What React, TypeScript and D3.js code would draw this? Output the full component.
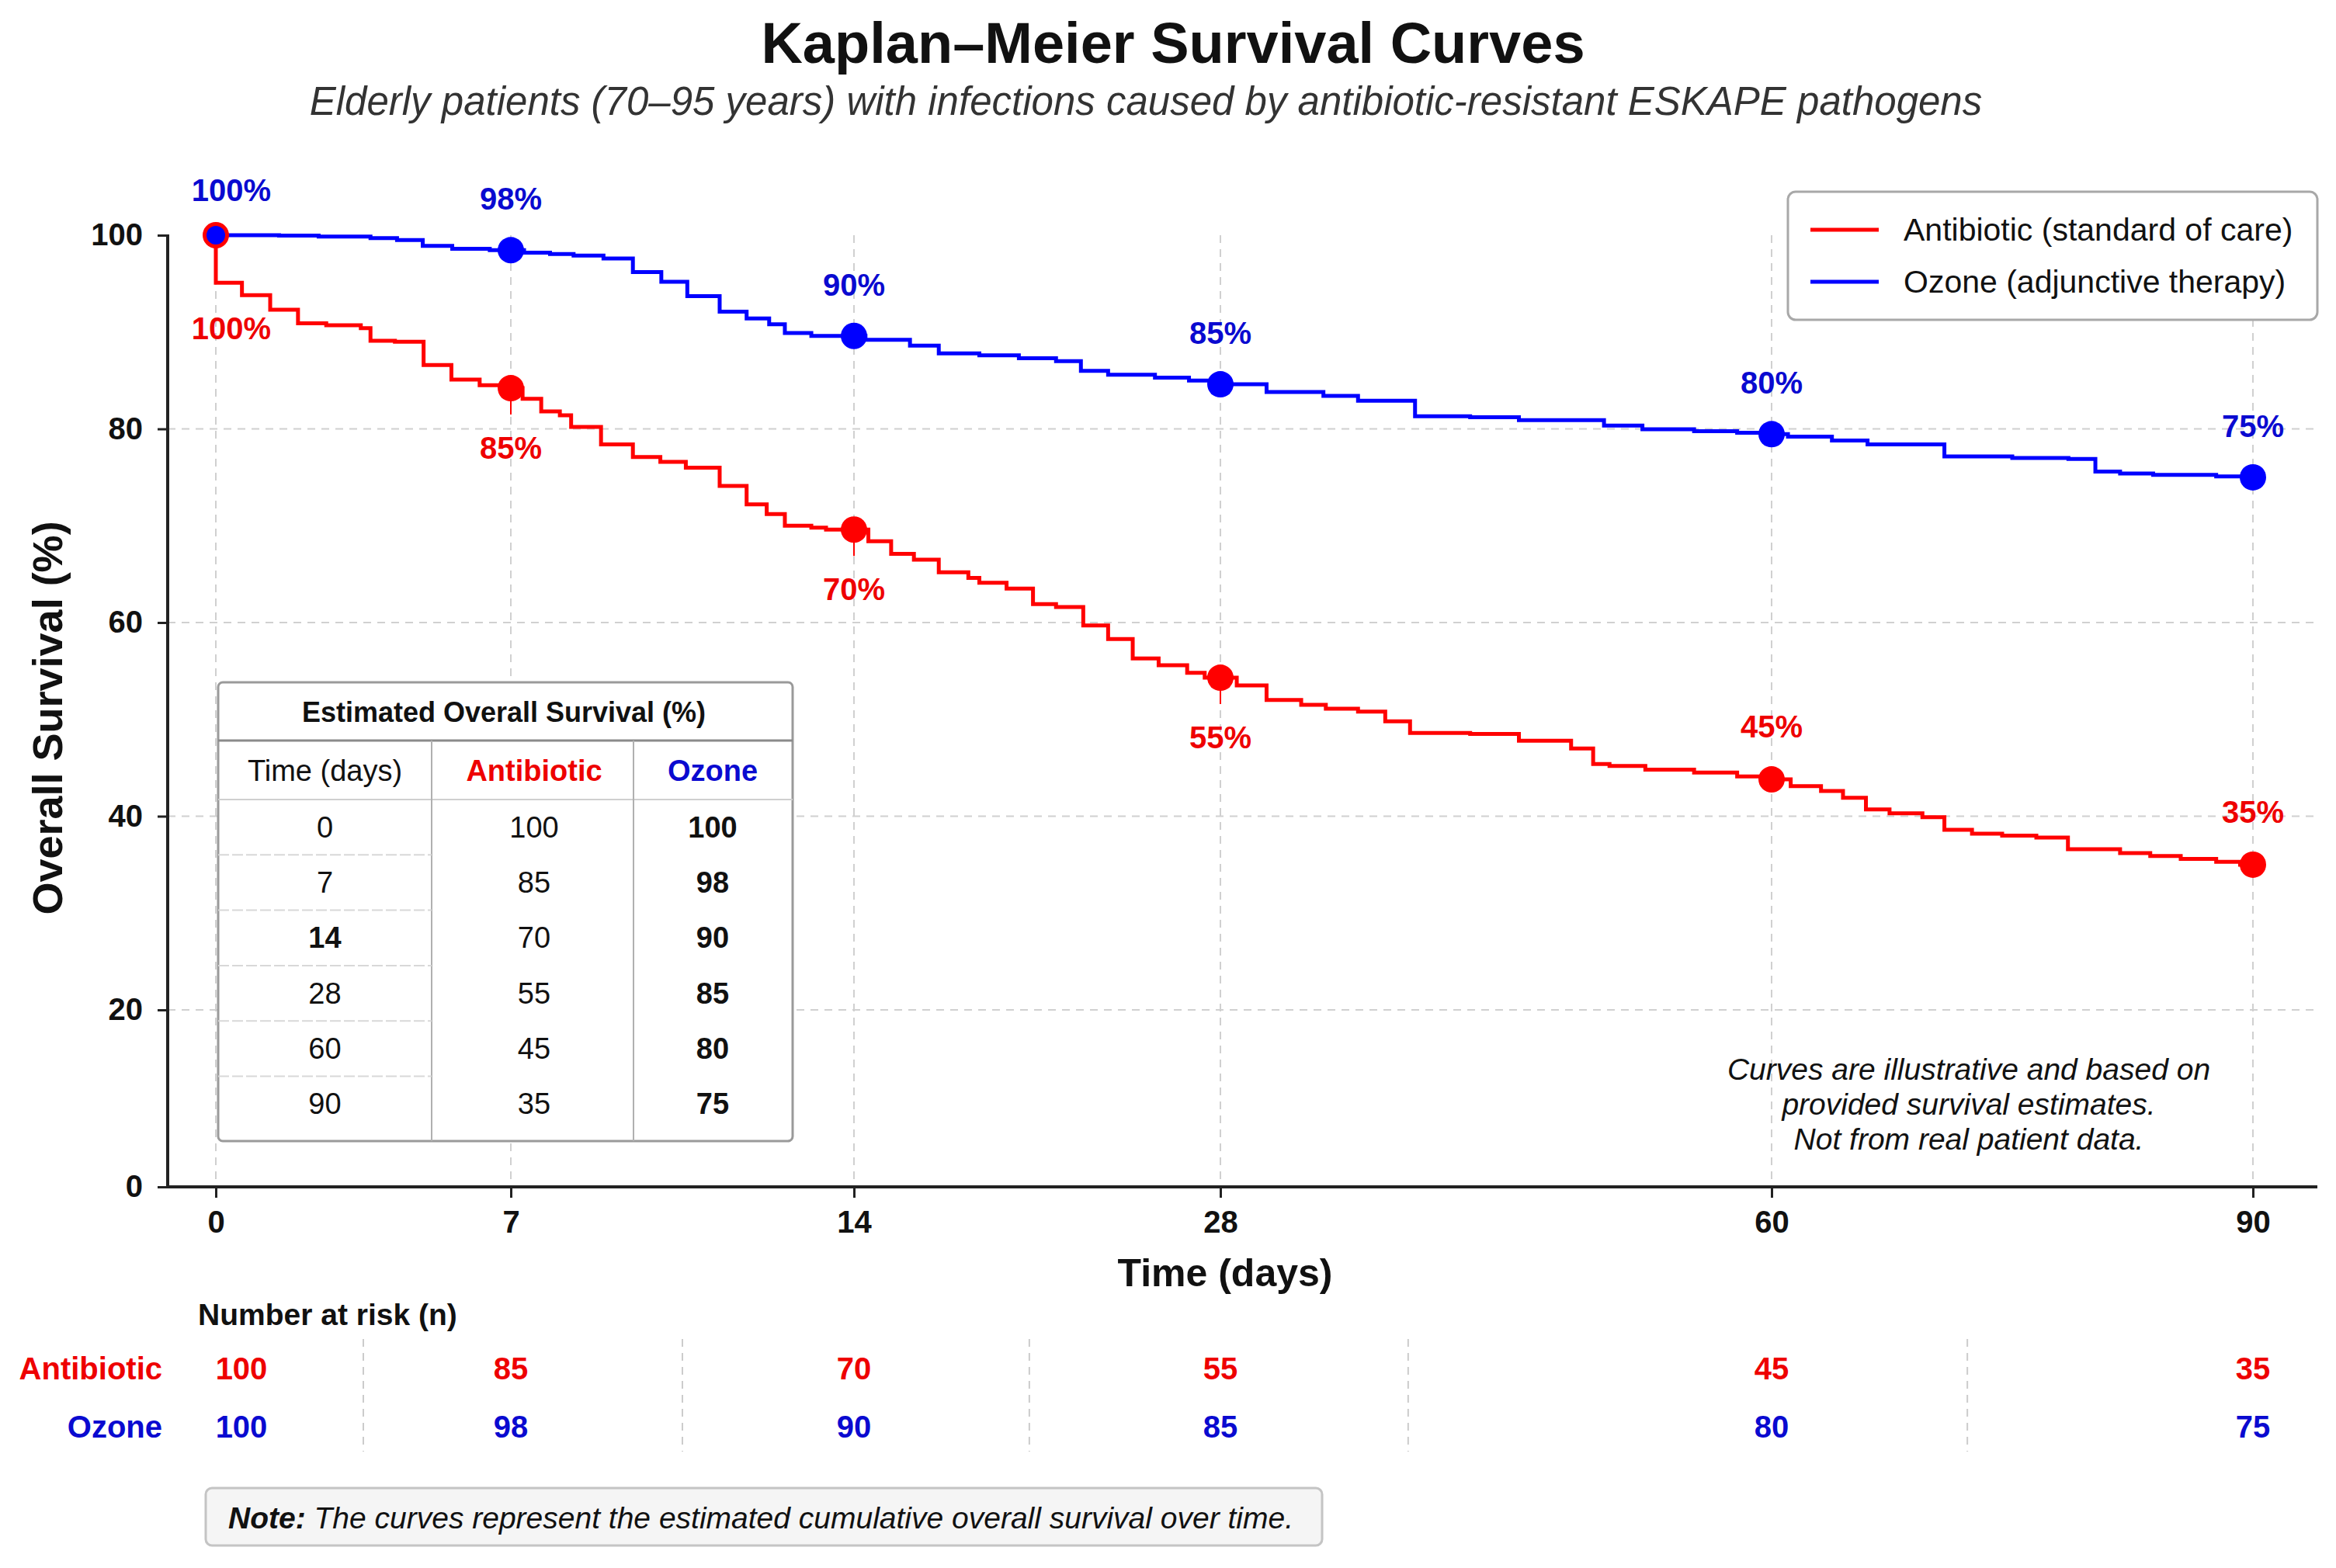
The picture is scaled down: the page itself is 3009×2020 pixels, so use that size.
import React, { useEffect, useRef } from 'react';
import * as d3 from 'd3';

// ---- data ----
const timepoints = [0, 7, 14, 28, 60, 90];
const antibioticEstimate = [100, 85, 70, 55, 45, 35];
const ozoneEstimate = [100, 98, 90, 85, 80, 75];
const atRiskAntibiotic = [100, 85, 70, 55, 45, 35];
const atRiskOzone = [100, 98, 90, 85, 80, 75];
const yTicks = [0, 20, 40, 60, 80, 100];
const riskDividers = [3.5, 10.5, 20.7, 38.9, 72.2];

// step curves: [day, survival %]
const antibioticSteps: [number, number][] = [
  [0, 100], [0, 95.1], [0.62, 93.8], [1.29, 92.3], [1.95, 90.9], [2.62, 90.7], [3.44, 90.4],
  [3.67, 89.1], [4.25, 89.0], [4.93, 86.6], [5.59, 85.1], [6.26, 84.5], [6.75, 84.2],
  [7.24, 83.1], [7.62, 81.8], [8.0, 81.4], [8.23, 80.2], [8.84, 78.4], [9.49, 77.1],
  [10.05, 76.6], [10.57, 76.0], [11.26, 74.1], [11.81, 72.2], [12.22, 71.2], [12.59, 70.0],
  [13.13, 69.8], [13.43, 69.6], [14.55, 68.4], [15.42, 67.1], [16.29, 66.5], [17.24, 65.2],
  [18.37, 64.6], [18.79, 64.1], [19.83, 63.5], [20.84, 61.9], [21.72, 61.6], [22.76, 59.7],
  [23.71, 58.3], [24.65, 56.3], [25.64, 55.6], [26.73, 54.8], [27.4, 54.3], [28.95, 53.5],
  [30.68, 52.0], [32.69, 51.5], [34.12, 51.1], [35.99, 50.8], [37.57, 49.8], [39.01, 48.6],
  [42.5, 48.5], [45.33, 47.8], [48.36, 47.0], [49.64, 45.4], [50.59, 45.2], [52.67, 44.8],
  [55.5, 44.5], [58, 44.1], [59.5, 43.8], [61.19, 43.1], [63.08, 42.6], [64.45, 41.9],
  [65.88, 40.7], [67.35, 40.3], [69.4, 39.9], [70.77, 38.6], [72.49, 38.2], [74.37, 38.0],
  [76.5, 37.8], [78.47, 36.6], [81.72, 36.2], [83.6, 35.9], [85.5, 35.6], [87.71, 35.3],
  [89.2, 35.0], [90, 35.0],
];

const ozoneSteps: [number, number][] = [
  [0, 100], [1.5, 99.95], [2.44, 99.85], [3.67, 99.7], [4.3, 99.5], [4.91, 98.9],
  [5.61, 98.6], [6.5, 98.45], [7.27, 98.2], [7.8, 98.05], [8.28, 97.9], [8.89, 97.6],
  [9.49, 96.2], [10.07, 95.2], [10.6, 93.7], [11.26, 92.1], [11.81, 91.4], [12.27, 90.8],
  [12.59, 89.9], [13.13, 89.6], [14.44, 89.2], [16.14, 88.6], [17.24, 87.8], [18.79, 87.6],
  [20.3, 87.3], [21.72, 87.0], [22.67, 86.0], [23.71, 85.6], [25.5, 85.3], [26.8, 85.0],
  [27.6, 84.6], [30.68, 83.8], [33.98, 83.4], [35.99, 82.9], [39.3, 81.3], [42.5, 81.2],
  [45.33, 80.9], [50.27, 80.35], [52.5, 79.95], [55.5, 79.75], [58, 79.6], [59.4, 79.45],
  [61.02, 79.2], [63.76, 78.8], [65.98, 78.4], [70.77, 77.15], [75, 77.0], [78.5, 76.9],
  [80.18, 75.6], [81.72, 75.4], [83.78, 75.25], [87.71, 75.1], [90, 75.0],
];

const legendLabels = ['Antibiotic (standard of care)', 'Ozone (adjunctive therapy)'];
const tableHeader = ['Time (days)', 'Antibiotic', 'Ozone'];
const annotationLines = [
  'Curves are illustrative and based on',
  'provided survival estimates.',
  'Not from real patient data.',
];

const FONT = "'Liberation Sans', Arial, Helvetica, sans-serif";
const RED = '#ff0000';
const BLUE = '#0000ff';
const RED_TXT = '#ee0000';
const BLUE_TXT = '#0a0ad0';

const W = 3009;
const H = 2020;
const L = 216, R = 2985, T = 303, B = 1529;

const valueAt = (steps: [number, number][], t: number) => {
  if (t === 0) return steps[0][1];
  const i = d3.bisectRight(steps.map(s => s[0]), t) - 1;
  return steps[Math.max(0, i)][1];
};

const KMChart = () => {
  const ref = useRef<SVGSVGElement>(null);

  useEffect(() => {
    const svg = d3.select(ref.current);
    svg.selectAll('*').remove();

    const x = d3.scaleLinear().domain(timepoints).range([278, 658, 1100, 1572, 2282, 2902]);
    const y = d3.scaleLinear().domain([0, 20, 100]).range([B, 1301, T]);

    const addText = (g: any, xx: number, yy: number, str: string, o: any = {}) =>
      g.append('text')
        .attr('x', xx).attr('y', yy)
        .attr('font-family', FONT)
        .attr('font-size', o.size ?? 40)
        .attr('font-weight', o.weight ?? 'normal')
        .attr('font-style', o.style ?? 'normal')
        .attr('fill', o.fill ?? '#111')
        .attr('text-anchor', o.anchor ?? 'middle')
        .attr('dominant-baseline', o.baseline ?? 'central')
        .text(str);

    svg.append('rect').attr('width', W).attr('height', H).attr('fill', '#fff');

    // titles
    addText(svg, 1511, 81, 'Kaplan–Meier Survival Curves', { size: 74, weight: 'bold', baseline: 'auto' });
    addText(svg, 1476, 148, 'Elderly patients (70–95 years) with infections caused by antibiotic-resistant ESKAPE pathogens',
      { size: 51, style: 'italic', fill: '#333', baseline: 'auto' });

    // grid
    const grid = svg.append('g');
    grid.selectAll('line.h').data(yTicks.filter(v => v > 0 && v < 100)).join('line')
      .attr('class', 'h')
      .attr('x1', L).attr('x2', R)
      .attr('y1', d => y(d)).attr('y2', d => y(d))
      .attr('stroke', '#d0d0d0').attr('stroke-width', 2).attr('stroke-dasharray', '10,8');
    grid.selectAll('line.v').data(timepoints).join('line')
      .attr('class', 'v')
      .attr('x1', d => x(d)).attr('x2', d => x(d))
      .attr('y1', T).attr('y2', B)
      .attr('stroke', '#d0d0d0').attr('stroke-width', 2).attr('stroke-dasharray', '10,8');

    // axes
    const gx = svg.append('g').attr('transform', `translate(0,${B})`)
      .call(d3.axisBottom(x).tickValues(timepoints).tickSize(14).tickPadding(17).tickSizeOuter(0) as any);
    gx.select('.domain').remove();
    gx.selectAll('line').attr('stroke', '#222').attr('stroke-width', 3);
    gx.selectAll('text').attr('font-family', FONT).attr('font-size', 40).attr('font-weight', 'bold').attr('fill', '#111');

    const gy = svg.append('g').attr('transform', `translate(${L},0)`)
      .call(d3.axisLeft(y).tickValues(yTicks).tickSize(13).tickPadding(19).tickSizeOuter(0) as any);
    gy.select('.domain').remove();
    gy.selectAll('line').attr('stroke', '#222').attr('stroke-width', 3);
    gy.selectAll('text').attr('font-family', FONT).attr('font-size', 40).attr('font-weight', 'bold').attr('fill', '#111');

    svg.append('line').attr('x1', L).attr('x2', L).attr('y1', T - 1).attr('y2', B + 2)
      .attr('stroke', '#222').attr('stroke-width', 4);
    svg.append('line').attr('x1', L - 2).attr('x2', R).attr('y1', B).attr('y2', B)
      .attr('stroke', '#222').attr('stroke-width', 4);

    addText(svg, 1578, 1640, 'Time (days)', { size: 50, weight: 'bold' });
    addText(svg, 0, 0, 'Overall Survival (%)', { size: 54, weight: 'bold' })
      .attr('transform', 'translate(61,925) rotate(-90)');

    // curves
    const line = d3.line<[number, number]>()
      .x(d => x(d[0])).y(d => y(d[1]))
      .curve(d3.curveStepAfter);
    svg.append('path').datum(ozoneSteps).attr('d', line)
      .attr('fill', 'none').attr('stroke', BLUE).attr('stroke-width', 5);
    svg.append('path').datum(antibioticSteps).attr('d', line)
      .attr('fill', 'none').attr('stroke', RED).attr('stroke-width', 5);

    // markers + labels
    const redPts = timepoints.map((t, i) => ({ t, v: valueAt(antibioticSteps, t), est: antibioticEstimate[i] }));
    const bluePts = timepoints.map((t, i) => ({ t, v: valueAt(ozoneSteps, t), est: ozoneEstimate[i] }));

    const redBelow = redPts.filter(p => p.t > 0 && p.t <= 28);
    svg.selectAll('line.conn').data(redBelow).join('line')
      .attr('class', 'conn')
      .attr('x1', d => x(d.t)).attr('x2', d => x(d.t))
      .attr('y1', d => y(d.v)).attr('y2', d => y(d.v) + 34)
      .attr('stroke', RED).attr('stroke-width', 2);

    svg.selectAll('circle.red').data(redPts).join('circle')
      .attr('class', 'red')
      .attr('cx', d => x(d.t)).attr('cy', d => y(d.v)).attr('r', 17)
      .attr('fill', RED);
    svg.selectAll('circle.blue').data(bluePts).join('circle')
      .attr('class', 'blue')
      .attr('cx', d => x(d.t)).attr('cy', d => y(d.v)).attr('r', d => (d.t === 0 ? 12 : 17))
      .attr('fill', BLUE);

    redPts.forEach(p => {
      const dx = p.t === 0 ? 20 : 0;
      const dy = p.t === 0 ? 120 : p.t <= 28 ? 77 : -68;
      addText(svg, x(p.t) + dx, y(p.v) + dy, `${p.est}%`, { size: 40, weight: 'bold', fill: RED_TXT });
    });
    bluePts.forEach(p => {
      const dx = p.t === 0 ? 20 : 0;
      const dy = p.t === 0 ? -58 : -66;
      addText(svg, x(p.t) + dx, y(p.v) + dy, `${p.est}%`, { size: 40, weight: 'bold', fill: BLUE_TXT });
    });

    // legend
    const lg = svg.append('g');
    lg.append('rect').attr('x', 2303).attr('y', 247).attr('width', 682).attr('height', 165)
      .attr('rx', 10).attr('fill', '#fff').attr('stroke', '#a8a8a8').attr('stroke-width', 3);
    [RED, BLUE].forEach((c, i) => {
      const ly = 296 + i * 67;
      lg.append('line').attr('x1', 2332).attr('x2', 2420).attr('y1', ly).attr('y2', ly)
        .attr('stroke', c).attr('stroke-width', 5);
      addText(lg, 2452, ly, legendLabels[i], { size: 41, anchor: 'start' });
    });

    // estimate table
    const tb = svg.append('g');
    const tL = 281, tR = 1021, tTop = 879, tTitle = 954, tHead = 1030, tBot = 1470;
    const colX = [556, 816];
    const colC = [418.5, 688, 918];
    const rowH = 71.3;
    tb.append('rect').attr('x', tL).attr('y', tTop).attr('width', tR - tL).attr('height', tBot - tTop)
      .attr('rx', 6).attr('fill', '#fff').attr('stroke', '#9a9a9a').attr('stroke-width', 3);
    tb.append('line').attr('x1', tL).attr('x2', tR).attr('y1', tTitle).attr('y2', tTitle)
      .attr('stroke', '#8a8a8a').attr('stroke-width', 3);
    tb.append('line').attr('x1', tL).attr('x2', tR).attr('y1', tHead).attr('y2', tHead)
      .attr('stroke', '#cfcfcf').attr('stroke-width', 2);
    colX.forEach(cx => tb.append('line').attr('x1', cx).attr('x2', cx).attr('y1', tTitle).attr('y2', tBot)
      .attr('stroke', '#b0b0b0').attr('stroke-width', 2));
    timepoints.slice(1).forEach((_, i) => {
      const ry = tHead + rowH * (i + 1);
      tb.append('line').attr('x1', tL).attr('x2', colX[0]).attr('y1', ry).attr('y2', ry)
        .attr('stroke', '#d8d8d8').attr('stroke-width', 2).attr('stroke-dasharray', '14,4');
    });
    addText(tb, 649, 917, 'Estimated Overall Survival (%)', { size: 36, weight: 'bold' });
    addText(tb, colC[0], 993, tableHeader[0], { size: 38 });
    addText(tb, colC[1], 993, tableHeader[1], { size: 38, weight: 'bold', fill: RED_TXT });
    addText(tb, colC[2], 993, tableHeader[2], { size: 38, weight: 'bold', fill: BLUE_TXT });
    timepoints.forEach((t, i) => {
      const ry = tHead + rowH * (i + 0.5);
      addText(tb, colC[0], ry, String(t), { size: 38, weight: t === 14 ? 'bold' : 'normal' });
      addText(tb, colC[1], ry, String(antibioticEstimate[i]), { size: 38 });
      addText(tb, colC[2], ry, String(ozoneEstimate[i]), { size: 38, weight: 'bold' });
    });

    // illustrative annotation
    annotationLines.forEach((s, i) =>
      addText(svg, 2536, 1377 + i * 45, s, { size: 39, style: 'italic' }));

    // number at risk
    addText(svg, 255, 1693, 'Number at risk (n)', { size: 39, weight: 'bold', anchor: 'start' });
    svg.selectAll('line.div').data(riskDividers).join('line')
      .attr('class', 'div')
      .attr('x1', d => x(d)).attr('x2', d => x(d))
      .attr('y1', 1725).attr('y2', 1870)
      .attr('stroke', '#cccccc').attr('stroke-width', 2).attr('stroke-dasharray', '10,8');
    addText(svg, 209, 1763, 'Antibiotic', { size: 40, weight: 'bold', anchor: 'end', fill: RED_TXT });
    addText(svg, 209, 1838, 'Ozone', { size: 40, weight: 'bold', anchor: 'end', fill: BLUE_TXT });
    timepoints.forEach((t, i) => {
      const nx = x(t) + (t === 0 ? 33 : 0);
      addText(svg, nx, 1763, String(atRiskAntibiotic[i]), { size: 40, weight: 'bold', fill: RED_TXT });
      addText(svg, nx, 1838, String(atRiskOzone[i]), { size: 40, weight: 'bold', fill: BLUE_TXT });
    });

    // note box
    const nb = svg.append('g');
    nb.append('rect').attr('x', 265).attr('y', 1917).attr('width', 1438).attr('height', 74)
      .attr('rx', 8).attr('fill', '#f5f5f5').attr('stroke', '#c4c4c4').attr('stroke-width', 3);
    const nt = nb.append('text').attr('x', 294).attr('y', 1955)
      .attr('font-family', FONT).attr('font-size', 39).attr('font-style', 'italic')
      .attr('fill', '#111').attr('dominant-baseline', 'central');
    nt.append('tspan').attr('font-weight', 'bold').text('Note:');
    nt.append('tspan').text(' The curves represent the estimated cumulative overall survival over time.');
  }, []);

  return (
    <svg
      ref={ref}
      width={W}
      height={H}
      viewBox={`0 0 ${W} ${H}`}
      style={{ position: 'absolute', left: 0, top: 0, background: '#fff' }}
    />
  );
};

export default function App() {
  return <KMChart />;
}
